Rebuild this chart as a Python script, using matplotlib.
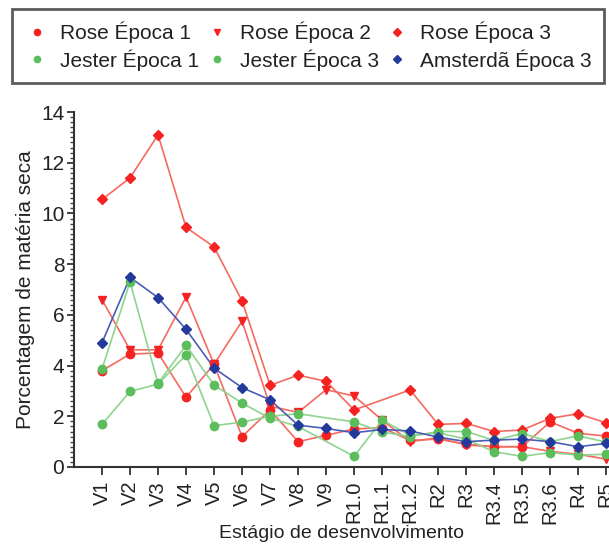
import numpy as np
import matplotlib
matplotlib.use("Agg")
import matplotlib.pyplot as plt
from matplotlib.lines import Line2D
from matplotlib.ticker import MultipleLocator

plt.rcParams['font.family'] = ['Liberation Sans', 'DejaVu Sans']

stages = ["V1", "V2", "V3", "V4", "V5", "V6", "V7", "V8", "V9", "R1.0", "R1.1",
          "R1.2", "R2", "R3", "R3.4", "R3.5", "R3.6", "R4", "R5"]
nan = np.nan
rose1 = [3.8, 4.45, 4.5, 2.75, 4.05, 1.2, 2.25, 1.0, 1.25, 1.5, 1.55, 1.05, 1.1, 0.9, 0.8, 0.8, 1.78, 1.33, 1.22]
rose2 = [6.6, 4.62, 4.62, 6.7, 4.05, 5.75, 2.4, 2.15, 3.05, 2.8, 1.85, 1.0, 1.15, 0.87, 0.8, 0.8, 0.62, 0.5, 0.31]
rose3 = [10.55, 11.4, 13.1, 9.45, 8.68, 6.55, 3.22, 3.62, 3.38, 2.25, nan, 3.04, 1.68, 1.72, 1.4, 1.46, 1.92, 2.1, 1.74]
jester1 = [1.68, 2.98, 3.27, 4.42, 1.63, 1.77, 2.0, 2.1, nan, 1.78, 1.38, 1.2, 1.4, 1.4, 1.05, 1.32, 1.0, 1.23, 0.98]
jester3 = [3.86, 7.3, 3.3, 4.8, 3.23, 2.52, 1.92, 1.6, nan, 0.42, 1.85, 1.25, 1.35, 1.1, 0.6, 0.42, 0.57, 0.47, 0.5]
amsterda = [4.9, 7.48, 6.68, 5.43, 3.9, 3.13, 2.65, 1.65, 1.52, 1.35, 1.48, 1.42, 1.18, 1.0, 1.06, 1.1, 1.0, 0.8, 0.93]

labels = ["Rose Época 1", "Rose Época 2", "Rose Época 3",
          "Jester Época 1", "Jester Época 3", "Amsterdã Época 3"]
series = [rose1, rose2, rose3, jester1, jester3, amsterda]

RED, RED_L = '#f52222', '#f46a60'
GRN, GRN_L = '#5cbd5c', '#8ed48e'
BLU, BLU_L = '#23399c', '#4b5cb4'
styles = [(RED, RED_L, 'o'), (RED, RED_L, 'v'), (RED, RED_L, 'D'),
          (GRN, GRN_L, 'o'), (GRN, GRN_L, 'o'), (BLU, BLU_L, 'D')]

fig = plt.figure(figsize=(6.09, 5.44), dpi=100)
ax = fig.add_axes([74/609, 1-467/544, 1-74/609, (467-112)/544])

x = np.arange(1, len(stages)+1)
for vals, (mc, lc, mk) in zip(series, styles):
    v = np.array(vals, dtype=float)
    m = ~np.isnan(v)
    ax.plot(x[m], v[m], color=lc, lw=1.2, zorder=2)
    ax.plot(x[m], v[m], ls='none', marker=mk, ms=6 if mk != 'D' else 5.5,
            mfc=mc, mec=mc, zorder=3)

ax.set_xlim(0, 19.1)
ax.set_ylim(0, 14)
ax.set_xticks(x)
ax.set_xticklabels(stages, rotation=90, fontsize=14.5, color='#222')
ax.set_yticks(np.arange(0, 15, 2))
ax.yaxis.set_minor_locator(MultipleLocator(0.2))
ax.tick_params(axis='y', labelsize=15, colors='#222', length=5, width=1.2, pad=2)
ax.tick_params(axis='y', which='minor', length=3, width=1.0, color='#444')
ax.tick_params(axis='x', length=6, width=1.2, pad=4, colors='#222')
for s in ['top', 'right']:
    ax.spines[s].set_visible(False)
for s in ['left', 'bottom']:
    ax.spines[s].set_linewidth(1.5)
    ax.spines[s].set_color('#333')

ax.set_xlabel("Estágio de desenvolvimento", fontsize=14, color='#222', labelpad=1)
ax.set_ylabel("Porcentagem de matéria seca", fontsize=15, color='#222', labelpad=4)

handles = []
for lab, (mc, lc, mk) in zip(labels, styles):
    handles.append(Line2D([], [], ls='none', marker=mk, ms=4.5 if mk != 'D' else 4,
                          mfc=mc, mec=mc, label=lab))
order = [0, 3, 1, 4, 2, 5]
leg = fig.legend([handles[i] for i in order], [labels[i] for i in order],
                 ncol=3, loc='upper left', mode='expand',
                 bbox_to_anchor=(12/609, 1-9/544, 592/609, 0),
                 frameon=True, fancybox=False, fontsize=15, handletextpad=0.5,
                 columnspacing=0.8, handlelength=1.2, borderpad=0.6,
                 borderaxespad=0, labelspacing=0.3)
leg.get_frame().set_edgecolor('#333')
leg.get_frame().set_linewidth(2)
for t in leg.get_texts():
    t.set_color('#222')

fig.savefig("out.png", dpi=100)
